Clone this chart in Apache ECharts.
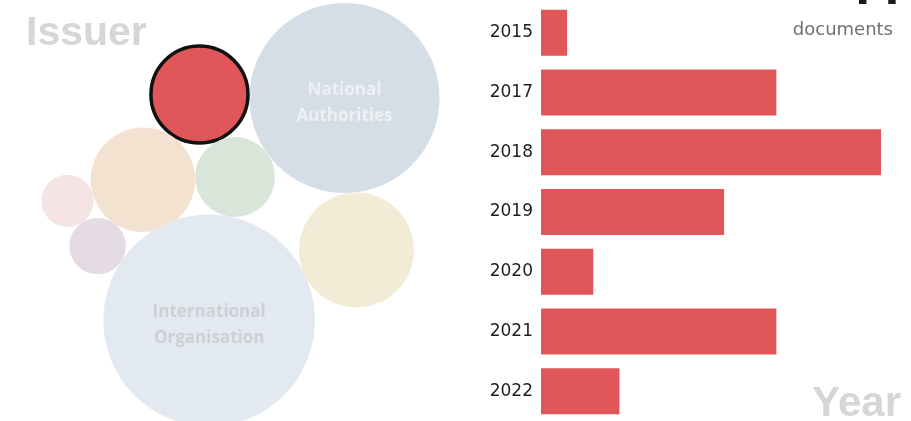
<!DOCTYPE html>
<html><head><meta charset="utf-8">
<script src="https://cdn.jsdelivr.net/npm/echarts@6/dist/echarts.min.js"></script>
<style>html,body{margin:0;padding:0;background:#fff}#c{width:911px;height:421px}</style>
</head><body><div id="c"></div>
<script>
// ---- data ----
const years = ['2015', '2017', '2018', '2019', '2020', '2021', '2022'];
const yearDocs = [1, 9, 13, 7, 2, 9, 3];
const issuerNames = ['National Authorities', 'Selected Issuer', 'Industry', 'Standards Body',
  'International Organisation', 'Academia', 'Civil Society', 'Other'];
const issuerDocs = [159, 44, 28, 48, 197, 58, 14, 12];
const labelledIssuers = ['National Authorities', 'International Organisation'];
const selectedIssuer = 'Selected Issuer';
const totalDocs = '44';
const unitLabel = 'documents';

// ---- styles / layout recipe ----
const issuerColors = ['#d5dde6', '#e15759', '#d9e5d8', '#f4e2d0', '#e2e9f1', '#f2ecd6', '#e5dbe5', '#f5e3e6'];
const bubbleScale = 7.54;            // px radius per sqrt(document)
const anchor = [344.5, 98];          // pixel centre of first bubble
// packing order; each bubble is placed tangent to earlier ones
const packOrder = [0, 1, 2, 5, 4, 3, 6, 7];
const packing = {
  1: { next: 0, angle: 181.4 },
  2: { touch: [1, 0], side: 1 },
  5: { next: 0, angle: 85.5 },
  4: { touch: [2, 5], side: 1 },
  3: { touch: [1, 2], side: 1 },
  6: { touch: [4, 3], side: -1 },
  7: { touch: [3, 6], side: 1 }
};

const radii = issuerDocs.map(v => bubbleScale * Math.sqrt(v));
const pos = [];
packOrder.forEach(i => {
  const p = packing[i];
  if (!p) { pos[i] = [0, 0]; return; }
  if (p.next !== undefined) {
    const a = p.angle * Math.PI / 180, d = radii[p.next] + radii[i];
    pos[i] = [pos[p.next][0] + d * Math.cos(a), pos[p.next][1] + d * Math.sin(a)];
    return;
  }
  const [ia, ib] = p.touch;
  const A = pos[ia], B = pos[ib];
  const ra = radii[ia] + radii[i], rb = radii[ib] + radii[i];
  const dx = B[0] - A[0], dy = B[1] - A[1], d = Math.hypot(dx, dy);
  const ux = dx / d, uy = dy / d;
  const x = (ra * ra - rb * rb + d * d) / (2 * d);
  const h = Math.sqrt(Math.max(0, ra * ra - x * x));
  pos[i] = [A[0] + x * ux - p.side * h * uy, A[1] + x * uy + p.side * h * ux];
});

const W = 911, H = 421;
const bubbleData = issuerNames.map((n, i) => {
  const sel = n === selectedIssuer;
  const lab = labelledIssuers.includes(n);
  return {
    name: n,
    value: [pos[i][0], pos[i][1], issuerDocs[i]],
    symbolSize: sel ? 2 * radii[i] - 3 : 2 * radii[i],
    itemStyle: sel ? { color: issuerColors[i], borderColor: '#111', borderWidth: 3.5, opacity: 1 }
                   : { color: issuerColors[i], opacity: 1 },
    label: {
      show: lab,
      formatter: p => p.name.replace(' ', '\n'),
      offset: [0, 5],
      color: n === 'National Authorities' ? '#eef1f4' : '#cdd0d3',
      fontWeight: 'bold', fontSize: 17, lineHeight: 26, fontFamily: 'Open Sans'
    }
  };
});

const chart = echarts.init(document.getElementById('c'), null, { renderer: 'canvas' });
chart.setOption({
  animation: false,
  backgroundColor: '#ffffff',
  grid: [
    { left: 0, top: 0, width: W, height: H },
    { left: 541, top: 3, width: 340, height: 423 }
  ],
  xAxis: [
    { gridIndex: 0, type: 'value', min: -anchor[0], max: W - anchor[0], show: false },
    { gridIndex: 1, type: 'value', min: 0, max: 13, show: false }
  ],
  yAxis: [
    { gridIndex: 0, type: 'value', inverse: true, min: -anchor[1], max: H - anchor[1], show: false },
    {
      gridIndex: 1, type: 'category', data: years, inverse: true,
      axisLine: { show: false }, axisTick: { show: false },
      axisLabel: { margin: 8, color: '#1e1e1e', fontSize: 17, fontFamily: 'DejaVu Sans' }
    }
  ],
  series: [
    {
      type: 'scatter', xAxisIndex: 0, yAxisIndex: 0, symbol: 'circle',
      data: bubbleData, label: { position: 'inside' }, emphasis: { disabled: true }, z: 2
    },
    {
      type: 'bar', xAxisIndex: 1, yAxisIndex: 1, data: yearDocs, barWidth: 46,
      itemStyle: { color: '#e15759' }
    }
  ],
  graphic: [
    { type: 'text', x: 26, y: 34, style: { text: 'Issuer', font: 'bold 41px "Liberation Sans"', fill: '#d6d6d6', verticalAlign: 'middle' } },
    { type: 'text', x: 901, y: 404, style: { text: 'Year', font: 'bold 42px "Liberation Sans"', fill: '#d6d6d6', align: 'right', verticalAlign: 'middle' } },
    { type: 'text', x: 893, y: 30, style: { text: unitLabel, font: '18px "DejaVu Sans"', fill: '#707070', align: 'right', verticalAlign: 'middle' } },
    { type: 'text', x: 902, y: -7, style: { text: totalDocs, font: 'bold 42px "DejaVu Sans"', fill: '#1a1a1a', align: 'right', verticalAlign: 'middle' } }
  ]
});
</script></body></html>
